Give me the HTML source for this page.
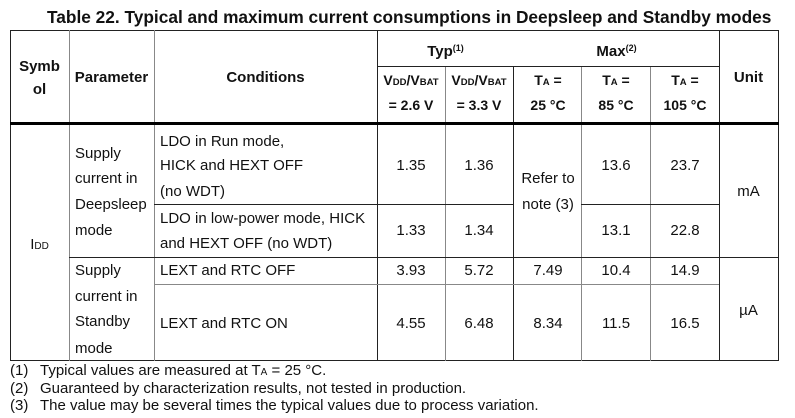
<!DOCTYPE html>
<html><head><meta charset="utf-8"><style>
html,body{margin:0;padding:0;background:#fff;}
body{width:795px;height:418px;position:relative;overflow:hidden;font-family:"Liberation Sans",Arial,sans-serif;color:#111;}
.t{position:absolute;white-space:nowrap;line-height:20px;font-size:15px;}
.c{text-align:center;}
.b{font-weight:bold;}
.l{position:absolute;background:#222;}
.g{background:#888;}
sub{font-size:10px;vertical-align:0;}
.h{font-size:14px;}
.h sub{font-size:9.5px;}
sup{font-size:9px;vertical-align:5px;}
</style></head><body>
<div class="t b" style="left:47px;top:7px;font-size:17.3px;">Table 22. Typical and maximum current consumptions in Deepsleep and Standby modes</div>

<div class="l" style="left:10px;top:30px;width:769px;height:1px"></div>
<div class="l" style="left:10px;top:360px;width:769px;height:1px"></div>
<div class="l" style="left:10px;top:30px;width:1px;height:331px"></div>
<div class="l" style="left:778px;top:30px;width:1px;height:331px"></div>
<div class="l g" style="left:69px;top:30px;width:1px;height:331px"></div>
<div class="l g" style="left:154px;top:30px;width:1px;height:331px"></div>
<div class="l" style="left:377px;top:30px;width:1px;height:331px"></div>
<div class="l" style="left:719px;top:30px;width:1px;height:331px"></div>
<div class="l g" style="left:445px;top:66px;width:1px;height:295px"></div>
<div class="l" style="left:513px;top:66px;width:1px;height:295px"></div>
<div class="l g" style="left:581px;top:66px;width:1px;height:295px"></div>
<div class="l g" style="left:650px;top:66px;width:1px;height:295px"></div>
<div class="l" style="left:377px;top:66px;width:342px;height:1px"></div>
<div class="l" style="left:10px;top:122px;width:769px;height:3px;background:#000"></div>
<div class="l" style="left:154px;top:204px;width:360px;height:1px"></div>
<div class="l" style="left:581px;top:204px;width:138px;height:1px"></div>
<div class="l" style="left:69px;top:257px;width:710px;height:1px"></div>
<div class="l g" style="left:154px;top:284px;width:565px;height:1px"></div>

<div class="t b c" style="left:10px;width:59px;top:57px">Symb</div>
<div class="t b c" style="left:10px;width:59px;top:80px">ol</div>
<div class="t b c" style="left:69px;width:85px;top:68px">Parameter</div>
<div class="t b c" style="left:154px;width:223px;top:68px">Conditions</div>
<div class="t b c" style="left:377px;width:137px;top:38px">Typ<sup>(1)</sup></div>
<div class="t b c" style="left:514px;width:205px;top:38px">Max<sup>(2)</sup></div>
<div class="t b c" style="left:719px;width:59px;top:68px">Unit</div>
<div class="t b c h" style="left:377px;width:68px;top:70px">V<sub>DD</sub>/V<sub>BAT</sub></div>
<div class="t b c h" style="left:445px;width:68px;top:70px">V<sub>DD</sub>/V<sub>BAT</sub></div>
<div class="t b c h" style="left:377px;width:68px;top:95px">= 2.6 V</div>
<div class="t b c h" style="left:445px;width:68px;top:95px">= 3.3 V</div>
<div class="t b c h" style="left:514px;width:68px;top:70px">T<sub>A</sub> =</div>
<div class="t b c h" style="left:582px;width:68px;top:70px">T<sub>A</sub> =</div>
<div class="t b c h" style="left:651px;width:68px;top:70px">T<sub>A</sub> =</div>
<div class="t b c h" style="left:514px;width:68px;top:95px">25 °C</div>
<div class="t b c h" style="left:582px;width:68px;top:95px">85 °C</div>
<div class="t b c h" style="left:651px;width:68px;top:95px">105 °C</div>

<div class="t c" style="left:10px;width:59px;top:235px">I<sub>DD</sub></div>
<div class="t" style="left:75px;top:144px">Supply</div>
<div class="t" style="left:75px;top:169px">current in</div>
<div class="t" style="left:75px;top:195px">Deepsleep</div>
<div class="t" style="left:75px;top:221px">mode</div>
<div class="t" style="left:75px;top:261px">Supply</div>
<div class="t" style="left:75px;top:287px">current in</div>
<div class="t" style="left:75px;top:312px">Standby</div>
<div class="t" style="left:75px;top:339px">mode</div>

<div class="t" style="left:160px;top:132px">LDO in Run mode,</div>
<div class="t" style="left:160px;top:156px">HICK and HEXT OFF</div>
<div class="t" style="left:160px;top:182px">(no WDT)</div>
<div class="t" style="left:160px;top:209px">LDO in low-power mode, HICK</div>
<div class="t" style="left:160px;top:234px">and HEXT OFF (no WDT)</div>
<div class="t" style="left:160px;top:261px">LEXT and RTC OFF</div>
<div class="t" style="left:160px;top:314px">LEXT and RTC ON</div>

<div class="t c" style="left:377px;width:68px;top:156px">1.35</div>
<div class="t c" style="left:445px;width:68px;top:156px">1.36</div>
<div class="t c" style="left:582px;width:68px;top:156px">13.6</div>
<div class="t c" style="left:651px;width:68px;top:156px">23.7</div>
<div class="t c" style="left:514px;width:68px;top:169px">Refer to</div>
<div class="t c" style="left:514px;width:68px;top:195px">note (3)</div>
<div class="t c" style="left:719px;width:59px;top:182px">mA</div>
<div class="t c" style="left:377px;width:68px;top:221px">1.33</div>
<div class="t c" style="left:445px;width:68px;top:221px">1.34</div>
<div class="t c" style="left:582px;width:68px;top:221px">13.1</div>
<div class="t c" style="left:651px;width:68px;top:221px">22.8</div>

<div class="t c" style="left:377px;width:68px;top:261px">3.93</div>
<div class="t c" style="left:445px;width:68px;top:261px">5.72</div>
<div class="t c" style="left:514px;width:68px;top:261px">7.49</div>
<div class="t c" style="left:582px;width:68px;top:261px">10.4</div>
<div class="t c" style="left:651px;width:68px;top:261px">14.9</div>
<div class="t c" style="left:377px;width:68px;top:314px">4.55</div>
<div class="t c" style="left:445px;width:68px;top:314px">6.48</div>
<div class="t c" style="left:514px;width:68px;top:314px">8.34</div>
<div class="t c" style="left:582px;width:68px;top:314px">11.5</div>
<div class="t c" style="left:651px;width:68px;top:314px">16.5</div>
<div class="t c" style="left:719px;width:59px;top:301px">µA</div>

<div class="t" style="left:10px;top:361px">(1)</div>
<div class="t" style="left:40px;top:361px">Typical values are measured at T<sub>A</sub> = 25 °C.</div>
<div class="t" style="left:10px;top:379px">(2)</div>
<div class="t" style="left:40px;top:379px">Guaranteed by characterization results, not tested in production.</div>
<div class="t" style="left:10px;top:396px">(3)</div>
<div class="t" style="left:40px;top:396px">The value may be several times the typical values due to process variation.</div>
</body></html>
